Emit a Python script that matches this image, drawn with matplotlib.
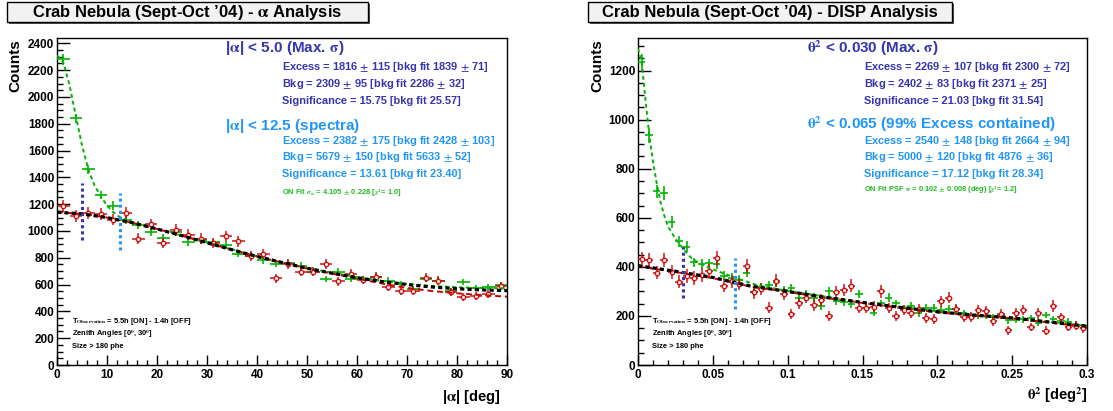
import numpy as np
import matplotlib
matplotlib.use("Agg")
import matplotlib.pyplot as plt
from matplotlib.patches import Rectangle
from matplotlib.ticker import MultipleLocator

plt.rcParams['font.family'] = ['Liberation Sans', 'DejaVu Sans']
plt.rcParams['font.weight'] = 'bold'
plt.rcParams['mathtext.fontset'] = 'stix'

# ---------------- data: alpha analysis ----------------
alpha_x = [1.25, 3.75, 6.25, 8.75, 11.25, 13.75, 16.25, 18.75, 21.25, 23.75, 26.25, 28.75,
           31.25, 33.75, 36.25, 38.75, 41.25, 43.75, 46.25, 48.75, 51.25, 53.75, 56.25, 58.75,
           61.25, 63.75, 66.25, 68.75, 71.25, 73.75, 76.25, 78.75, 81.25, 83.75, 86.25, 88.75]
alpha_on = [2280, 1840, 1460, 1270, 1190, 1080, 1047, 992, 947, 990, 917, 930,
            915, 897, 830, 815, 780, 755, 760, 742, 697, 642, 697, 642,
            640, 660, 630, 605, 565, 645, 630, 555, 617, 575, 585, 595]
alpha_off = [1187, 1110, 1135, 1125, 1085, 1135, 942, 1050, 910, 1010, 972, 942,
             912, 962, 922, 810, 830, 647, 755, 697, 697, 755, 625, 680,
             635, 660, 580, 550, 555, 650, 630, 542, 510, 517, 530, 592]
alpha_on_err = [40, 36, 33, 31, 30, 29, 29, 28, 28, 28, 27, 27,
                27, 27, 26, 26, 25, 25, 25, 25, 24, 23, 24, 23,
                23, 23, 23, 22, 22, 23, 23, 22, 22, 22, 22, 22]
alpha_off_err = [45, 44, 44, 44, 43, 44, 40, 42, 39, 41, 40, 40,
                 39, 40, 39, 37, 37, 33, 35, 34, 34, 35, 32, 34,
                 32, 33, 31, 30, 30, 33, 32, 30, 29, 29, 30, 31]
alpha_fit_x = [0, 5, 10, 15, 20, 25, 30, 35, 40, 45, 50, 55, 60, 65, 70, 75, 80, 85, 90]
alpha_bkg_fit = [1140, 1128, 1100, 1062, 1015, 965, 912, 860, 810, 765, 722, 685, 652, 623, 600, 582, 569, 560, 555]
alpha_off_fit = [1140, 1128, 1100, 1062, 1015, 965, 912, 860, 810, 765, 720, 682, 645, 608, 575, 552, 535, 521, 510]
alpha_on_fit_x = [0, 1.25, 2.5, 3.75, 5, 6.25, 7.5, 8.75, 10, 11.25, 12.5, 15, 20, 25, 30, 35, 40,
                  45, 50, 55, 60, 65, 70, 75, 80, 85, 90]
alpha_on_fit = [2310, 2260, 2090, 1860, 1640, 1460, 1340, 1260, 1190, 1140, 1105, 1065, 1015, 965, 915,
                862, 812, 765, 725, 688, 655, 627, 605, 590, 580, 575, 572]
alpha_cuts = [5.0, 12.5]
alpha_cut_ranges = [(930, 1360), (860, 1285)]

# ---------------- data: DISP analysis ----------------
theta_x = [0.0025 + 0.005 * i for i in range(60)]
theta_on = [1234, 937, 708, 701, 582, 504, 483, 418, 412, 414, 412, 364,
            355, 346, 377, 299, 316, 325, 338, 305, 314, 275, 290, 275,
            241, 300, 259, 255, 248, 289, 234, 214, 251, 275, 251, 230,
            241, 210, 234, 232, 225, 228, 228, 210, 200, 200, 200, 195,
            200, 183, 185, 187, 191, 173, 204, 187, 180, 177, 165, 149]
theta_off = [432, 428, 377, 428, 380, 339, 364, 355, 367, 384, 435, 323,
             341, 330, 405, 296, 310, 234, 344, 289, 207, 251, 275, 245,
             266, 200, 296, 305, 323, 234, 232, 237, 300, 232, 200, 224,
             214, 228, 190, 187, 259, 275, 228, 194, 196, 224, 221, 180,
             207, 142, 210, 224, 155, 210, 139, 241, 194, 155, 160, 149]
theta_on_err = [35, 31, 27, 27, 24, 22, 22, 20, 20, 20, 20, 19,
                19, 19, 19, 17, 18, 18, 18, 17, 18, 17, 17, 17,
                16, 17, 16, 16, 16, 17, 15, 15, 16, 17, 16, 15,
                16, 15, 15, 15, 15, 15, 15, 15, 14, 14, 14, 14,
                14, 14, 14, 14, 14, 13, 14, 14, 13, 13, 13, 12]
theta_off_err = [30, 30, 28, 30, 28, 27, 28, 27, 28, 28, 30, 26,
                 27, 26, 29, 25, 26, 22, 27, 25, 21, 23, 24, 23,
                 24, 21, 25, 25, 26, 22, 22, 22, 25, 22, 21, 22,
                 21, 22, 20, 20, 23, 24, 22, 20, 20, 22, 21, 19,
                 21, 18, 21, 22, 18, 21, 18, 23, 20, 18, 18, 18]
theta_fit_x = [0, 0.025, 0.05, 0.075, 0.1, 0.125, 0.15, 0.175, 0.2, 0.225, 0.25, 0.275, 0.3]
theta_bkg_fit = [405, 382, 357, 322, 300, 276, 255, 235, 217, 203, 192, 175, 158]
theta_off_fit = [402, 379, 354, 320, 298, 274, 253, 233, 215, 201, 190, 173, 156]
theta_on_fit_x = [0, 0.0025, 0.005, 0.0075, 0.01, 0.0125, 0.015, 0.0175, 0.02, 0.025, 0.03, 0.035,
                  0.04, 0.045, 0.05, 0.06, 0.07, 0.08, 0.1, 0.15, 0.2, 0.25, 0.3]
theta_on_fit = [1290, 1234, 1080, 940, 830, 740, 665, 610, 565, 515, 475, 440,
                418, 402, 390, 367, 345, 325, 302, 256, 218, 192, 160]
theta_cuts = [0.030, 0.065]
theta_cut_ranges = [(273, 480), (228, 436)]

# ---------------- styles ----------------
W, H = 1113, 411
DARKBLUE = '#3535b0'
LIGHTBLUE = '#2196f8'
GREEN = '#00b400'
TXTGREEN = '#22bb22'
RED = '#c80000'
A = '$\\mathrm{\\alpha}$'
S = '$\\mathrm{\\sigma}$'
T2 = '$\\mathrm{\\theta}^2$'
PM = '$\\pm$'

fig = plt.figure(figsize=(W / 100, H / 100), dpi=100)


def fx(x):
    return x / W


def fy(y):
    return 1 - y / H


def ftext(x, y, s, **kw):
    fig.text(fx(x), fy(y), s, **kw)


def make_axes(left, right, ymax, xmax, xmaj, xmin):
    ax = fig.add_axes([fx(left), fy(365), fx(right - left), (365 - 38) / H])
    ax.set_xlim(0, xmax)
    ax.set_ylim(0, ymax)
    ax.xaxis.set_major_locator(MultipleLocator(xmaj))
    ax.xaxis.set_minor_locator(MultipleLocator(xmin))
    ax.yaxis.set_major_locator(MultipleLocator(200))
    ax.yaxis.set_minor_locator(MultipleLocator(50))
    ax.tick_params(axis='both', which='both', direction='in', top=False, right=False,
                   labelsize=8.5, width=1)
    ax.tick_params(axis='y', which='major', length=9, pad=2)
    ax.tick_params(axis='y', which='minor', length=4.5)
    ax.tick_params(axis='x', which='major', length=7.5, pad=3)
    ax.tick_params(axis='x', which='minor', length=3.5)
    for sp in ax.spines.values():
        sp.set_linewidth(1)
    return ax


def draw_panel(ax, x, on, off, on_err, off_err, halfw, fit_x, bkg_fit, off_fit,
               on_fit_x, on_fit, cuts, cut_ranges):
    ax.errorbar(x, on, yerr=on_err, xerr=halfw, fmt='none', ecolor=GREEN, elinewidth=1.2,
                capsize=0, zorder=3)
    ax.errorbar(x, off, yerr=off_err, xerr=halfw, fmt='o', color=RED, ecolor=RED,
                elinewidth=1.1, alpha=0.9, markersize=3.2, markerfacecolor='white',
                markeredgecolor=RED, markeredgewidth=1.0, capsize=0, zorder=4)
    ax.plot(on_fit_x, on_fit, color=GREEN, lw=1.4, ls=(0, (2, 1.6)), zorder=5)
    ax.plot(fit_x, off_fit, color=RED, lw=1.4, ls=(0, (3, 2)), zorder=5)
    ax.plot(fit_x, bkg_fit, color='black', lw=2.3, ls=(0, (1.3, 1.0)), zorder=6)
    ax.plot([cuts[0], cuts[0]], cut_ranges[0], color=DARKBLUE, lw=2.2, ls=(0, (1, 1)), zorder=6)
    ax.plot([cuts[1], cuts[1]], cut_ranges[1], color=LIGHTBLUE, lw=2.2, ls=(0, (1, 1)), zorder=6)


# left panel
axL = make_axes(57, 507, 2440, 90, 10, 2)
draw_panel(axL, alpha_x, alpha_on, alpha_off, alpha_on_err, alpha_off_err, 1.25,
           alpha_fit_x, alpha_bkg_fit, alpha_off_fit, alpha_on_fit_x, alpha_on_fit,
           alpha_cuts, alpha_cut_ranges)

# right panel
axR = make_axes(638, 1087, 1333, 0.3, 0.05, 0.01)
axR.xaxis.set_major_formatter(matplotlib.ticker.FuncFormatter(
    lambda v, p: '0' if abs(v) < 1e-9 else ('%g' % round(v, 3))))
draw_panel(axR, theta_x, theta_on, theta_off, theta_on_err, theta_off_err, 0.0025,
           theta_fit_x, theta_bkg_fit, theta_off_fit, theta_on_fit_x, theta_on_fit,
           theta_cuts, theta_cut_ranges)

# title boxes
for (x0, x1, title) in [(7, 368, "Crab Nebula (Sept-Oct \u201904) - " + A + " Analysis"),
                        (588, 952, "Crab Nebula (Sept-Oct \u201904) - DISP Analysis")]:
    fig.add_artist(Rectangle((fx(x0 + 2), fy(24)), fx(x1 - x0), (22 - 2) / H,
                             transform=fig.transFigure, facecolor='#555555', edgecolor='none'))
    fig.add_artist(Rectangle((fx(x0), fy(22)), fx(x1 - x0), (22 - 2) / H,
                             transform=fig.transFigure, facecolor='#f2f2f2', edgecolor='black', lw=1))
    ftext((x0 + x1) / 2, 12.5, title, ha='center', va='center', fontsize=12, fontweight='bold')

# axis labels
ftext(15, 39, 'Counts', rotation=90, ha='center', va='top', fontsize=11, fontweight='bold')
ftext(597, 39, 'Counts', rotation=90, ha='center', va='top', fontsize=11, fontweight='bold')
ftext(501, 397, '|' + A + '| [deg]', ha='right', va='center', fontsize=10.5, fontweight='bold')
ftext(1087, 395, T2 + ' [deg$^2$]', ha='right', va='center', fontsize=10.5, fontweight='bold')

# statistics text, left
SUB = 7.9
ftext(225, 48, '|' + A + '| < 5.0 (Max. ' + S + ')', color=DARKBLUE, fontsize=11, va='center')
ftext(282, 67, 'Excess = 1816 ' + PM + ' 115 [bkg fit 1839 ' + PM + ' 71]', color=DARKBLUE, fontsize=SUB, va='center')
ftext(282, 84, 'Bkg = 2309 ' + PM + ' 95 [bkg fit 2286 ' + PM + ' 32]', color=DARKBLUE, fontsize=SUB, va='center')
ftext(282, 101, 'Significance = 15.75 [bkg fit 25.57]', color=DARKBLUE, fontsize=SUB, va='center')
ftext(225, 126, '|' + A + '| < 12.5 (spectra)', color=LIGHTBLUE, fontsize=11, va='center')
ftext(282, 141, 'Excess = 2382 ' + PM + ' 175 [bkg fit 2428 ' + PM + ' 103]', color=LIGHTBLUE, fontsize=SUB, va='center')
ftext(282, 157, 'Bkg = 5679 ' + PM + ' 150 [bkg fit 5633 ' + PM + ' 52]', color=LIGHTBLUE, fontsize=SUB, va='center')
ftext(282, 174, 'Significance = 13.61 [bkg fit 23.40]', color=LIGHTBLUE, fontsize=SUB, va='center')
ftext(282, 193, 'ON Fit $\\sigma_\\alpha$ = 4.105 ' + PM + ' 0.228 [$\\chi^2$= 1.0]', color=TXTGREEN,
      fontsize=5.4, va='center')

# statistics text, right
ftext(807, 48, T2 + ' < 0.030 (Max. ' + S + ')', color=DARKBLUE, fontsize=11, va='center')
ftext(864, 67, 'Excess = 2269 ' + PM + ' 107 [bkg fit 2300 ' + PM + ' 72]', color=DARKBLUE, fontsize=SUB, va='center')
ftext(864, 84, 'Bkg = 2402 ' + PM + ' 83 [bkg fit 2371 ' + PM + ' 25]', color=DARKBLUE, fontsize=SUB, va='center')
ftext(864, 101, 'Significance = 21.03 [bkg fit 31.54]', color=DARKBLUE, fontsize=SUB, va='center')
ftext(807, 124, T2 + ' < 0.065 (99% Excess contained)', color=LIGHTBLUE, fontsize=11, va='center')
ftext(864, 141, 'Excess = 2540 ' + PM + ' 148 [bkg fit 2664 ' + PM + ' 94]', color=LIGHTBLUE, fontsize=SUB, va='center')
ftext(864, 157, 'Bkg = 5000 ' + PM + ' 120 [bkg fit 4876 ' + PM + ' 36]', color=LIGHTBLUE, fontsize=SUB, va='center')
ftext(864, 174, 'Significance = 17.12 [bkg fit 28.34]', color=LIGHTBLUE, fontsize=SUB, va='center')
ftext(864, 190, 'ON Fit PSF ' + S + ' = 0.102 ' + PM + ' 0.008 (deg) [$\\chi^2$= 1.2]', color=TXTGREEN,
      fontsize=5.4, va='center')

# observation notes
for x0 in (72, 652):
    ftext(x0, 321, 'T$_{\\rm Observation}$ = 5.5h [ON] - 1.4h [OFF]', fontsize=5.4, va='center')
    ftext(x0, 334, 'Zenith Angles [0$^0$, 30$^0$]', fontsize=5.4, va='center')
    ftext(x0, 347, 'Size > 180 phe', fontsize=5.4, va='center')

fig.savefig('out.png', dpi=100)
